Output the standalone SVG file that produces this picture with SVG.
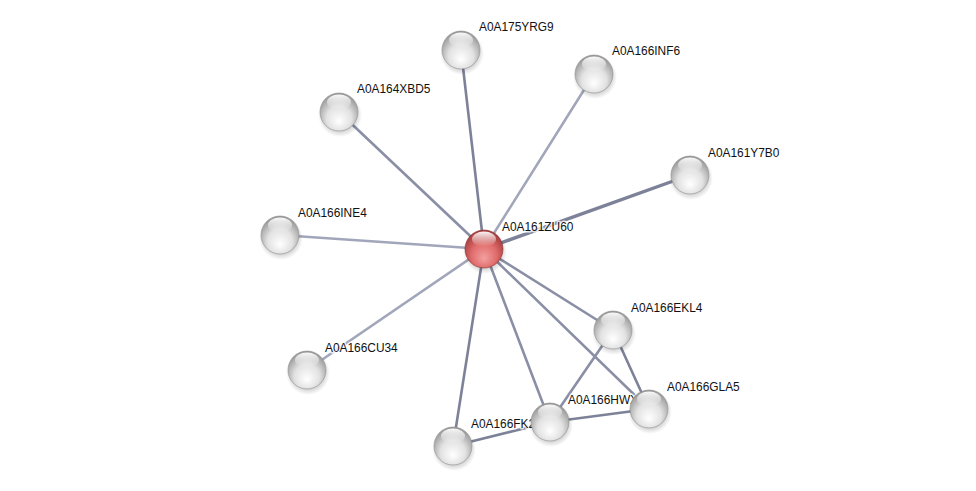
<svg xmlns="http://www.w3.org/2000/svg" width="976" height="491" viewBox="0 0 976 491">
<style>
.e{stroke:#8a8fa6;stroke-width:2.6;fill:none;stroke-linecap:round}
.l{stroke:#a2a6ba}
.d{stroke:#7d8299}
.t{font-family:"Liberation Sans",Arial,sans-serif;font-size:11.9px;fill:#111;stroke:#fff;stroke-width:3;stroke-opacity:0.8;paint-order:stroke;stroke-linejoin:round}
</style>
<defs>
<radialGradient id="g" cx="0.5" cy="0.62" r="0.6" fx="0.5" fy="0.75">
<stop offset="0" stop-color="#ffffff"/>
<stop offset="0.55" stop-color="#e2e2e2"/>
<stop offset="1" stop-color="#979797"/>
</radialGradient>
<radialGradient id="r" cx="0.5" cy="0.62" r="0.6" fx="0.5" fy="0.75">
<stop offset="0" stop-color="#f4a0a0"/>
<stop offset="0.55" stop-color="#e06c6c"/>
<stop offset="1" stop-color="#a33a3a"/>
</radialGradient>
<linearGradient id="h" x1="0" y1="0" x2="0" y2="1">
<stop offset="0" stop-color="#fff" stop-opacity="0.95"/>
<stop offset="1" stop-color="#fff" stop-opacity="0"/>
</linearGradient>
<radialGradient id="s" cx="0.5" cy="0.5" r="0.5">
<stop offset="0.6" stop-color="#000" stop-opacity="0.25"/>
<stop offset="1" stop-color="#000" stop-opacity="0"/>
</radialGradient>
<g id="ball">
<circle cx="1" cy="3" r="22" fill="url(#s)"/>
<circle r="19" fill="url(#g)" stroke="#8f8f8f" stroke-width="0.6"/>
<ellipse cx="0" cy="-10" rx="12" ry="7.5" fill="url(#h)"/>
</g>
<g id="rball">
<circle cx="1" cy="3" r="22" fill="url(#s)"/>
<circle r="19" fill="url(#r)" stroke="#8a2f2f" stroke-width="0.6"/>
<ellipse cx="0" cy="-10" rx="12" ry="7.5" fill="url(#h)"/>
</g>
</defs>
<rect width="976" height="491" fill="#fff"/>
<g id="connectors">
<line class="e d" x1="484" y1="249" x2="461" y2="50"/>
<line class="e l" x1="484" y1="249" x2="594" y2="74"/>
<line class="e" x1="484" y1="249" x2="339" y2="112"/>
<line class="e d" x1="484" y1="249" x2="690" y2="175" style="stroke-width:3.4"/>
<line class="e l" x1="484" y1="249" x2="280" y2="235"/>
<line class="e l" x1="484" y1="249" x2="307" y2="370"/>
<line class="e" x1="484" y1="249" x2="613" y2="330"/>
<line class="e" x1="484" y1="249" x2="649" y2="409"/>
<line class="e" x1="484" y1="249" x2="550" y2="422"/>
<line class="e d" x1="484" y1="249" x2="453" y2="446"/>
<line class="e d" x1="613" y1="330" x2="649" y2="409"/>
<line class="e" x1="613" y1="330" x2="550" y2="422"/>
<line class="e d" x1="550" y1="422" x2="649" y2="409"/>
<line class="e d" x1="550" y1="422" x2="453" y2="446"/>
</g>
<g id="labels">
<text class="t" x="502" y="231">A0A161ZU60</text>
<text class="t" x="479" y="31">A0A175YRG9</text>
<text class="t" x="612" y="55">A0A166INF6</text>
<text class="t" x="357" y="93">A0A164XBD5</text>
<text class="t" x="708" y="157">A0A161Y7B0</text>
<text class="t" x="298" y="217">A0A166INE4</text>
<text class="t" x="325" y="352">A0A166CU34</text>
<text class="t" x="631" y="312">A0A166EKL4</text>
<text class="t" x="667" y="391">A0A166GLA5</text>
<text class="t" x="568" y="404">A0A166HWX</text>
<text class="t" x="471" y="428">A0A166FK2</text>
</g>
<g id="n-A0A175YRG9"><use href="#ball" x="461" y="50"/></g>
<g id="n-A0A166INF6"><use href="#ball" x="594" y="74"/></g>
<g id="n-A0A164XBD5"><use href="#ball" x="339" y="112"/></g>
<g id="n-A0A161Y7B0"><use href="#ball" x="690" y="175"/></g>
<g id="n-A0A166INE4"><use href="#ball" x="280" y="235"/></g>
<g id="n-A0A166CU34"><use href="#ball" x="307" y="370"/></g>
<g id="n-A0A166EKL4"><use href="#ball" x="613" y="330"/></g>
<g id="n-A0A166FK2"><use href="#ball" x="453" y="446"/></g>
<g id="n-A0A166HWX"><use href="#ball" x="550" y="422"/></g>
<g id="n-A0A166GLA5"><use href="#ball" x="649" y="409"/></g>
<g id="n-A0A161ZU60"><use href="#rball" x="484" y="249"/></g>
</svg>
